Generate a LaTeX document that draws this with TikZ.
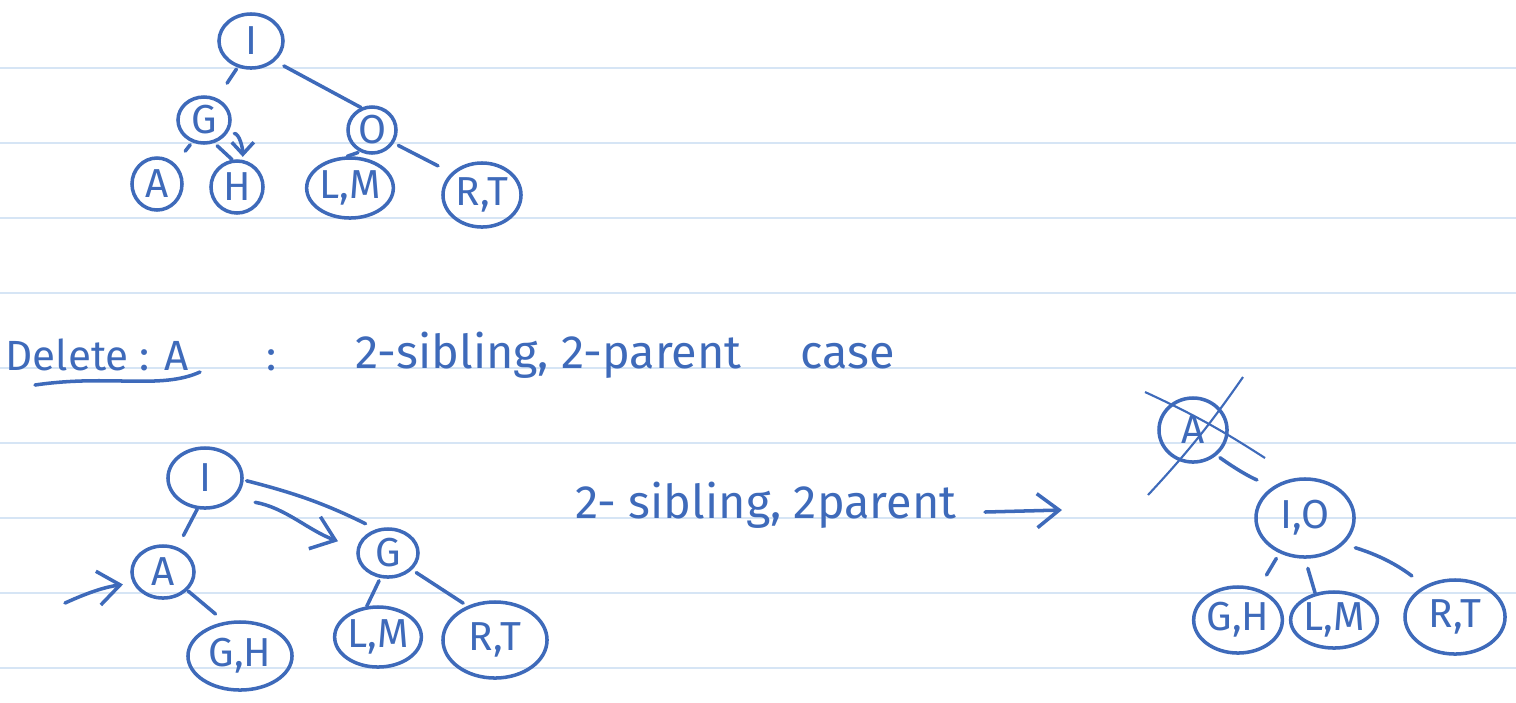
\documentclass[tikz,border=0pt]{standalone}
\usepackage{fontspec}
\setmainfont{Fira Sans}
\usepackage{xcolor}
\usepackage{tikz}
\usetikzlibrary{shapes.geometric, arrows.meta, calc}
\definecolor{inkblue}{RGB}{62,106,186}
\definecolor{ruleblue}{RGB}{214,229,245}

\begin{document}
\begin{tikzpicture}[
    x=0.01cm, y=0.01cm,
    bubble/.style={draw=inkblue, ellipse, line width=1pt, inner sep=0pt, text=inkblue, font=\fontsize{11.5}{13}\selectfont},
    link/.style={draw=inkblue, line width=1pt, line cap=round},
    pointer/.style={link, -{Straight Barb[length=2.2mm, width=3.4mm]}},
    ruling/.style={draw=ruleblue, line width=0.6pt},
    note/.style={text=inkblue, font=\fontsize{12}{14}\selectfont, inner sep=0pt, anchor=base west},
    bignote/.style={note, font=\fontsize{13.3}{15}\selectfont}
]
    \useasboundingbox (0,0) rectangle (1516,-702);
    \foreach \y in {68,143,...,668}
        \draw[ruling] (0,-\y) -- (1516,-\y);

    % first tree
    \node[bubble, minimum width=0.64cm, minimum height=0.54cm] (I1) at (251,-41) {I};
    \node[bubble, minimum width=0.52cm, minimum height=0.46cm] (G1) at (204,-120) {G};
    \node[bubble, minimum width=0.48cm, minimum height=0.46cm] (O1) at (372,-130) {O};
    \node[bubble, minimum width=0.50cm, minimum height=0.52cm] (A1) at (157,-184) {A};
    \node[bubble, minimum width=0.52cm, minimum height=0.52cm] (H1) at (237,-187) {H};
    \node[bubble, minimum width=0.74cm, minimum height=0.60cm] (LM1) at (350,-188) {L,M};
    \node[bubble, minimum width=0.78cm, minimum height=0.64cm] (RT1) at (482,-195) {R,T};

    \draw[link, shorten <=0.02cm, shorten >=0.18cm] (I1.-117) -- (G1.59);
    \draw[link, shorten <=0.1cm] (I1.-40) -- (O1.116);
    \draw[link, shorten <=0.03cm, shorten >=0.16cm] (G1.242) -- (A1.48);
    \draw[link, shorten <=0.04cm] (G1.-66) -- (H1.100);
    \draw[link, -{Straight Barb[length=1.2mm, width=2.2mm]}, shorten <=0.07cm, shorten >=0.03cm] (G1.-30) to[out=0, in=90] (H1.78);
    \draw[link, shorten <=0.02cm] (O1.241) -- (LM1.95);
    \draw[link, shorten <=0.05cm, shorten >=0.15cm] (O1.-31) -- (RT1.144);

    % heading
    \node[note] (del) at (5,-370) {Delete : A};
    \draw[link] (35,-385) .. controls (110,-374) and (160,-390) .. (200,-372);
    \node[note] (sep) at (266,-370) {:};
    \node[bignote] (case1) at (355,-368) {2-sibling, 2-parent};
    \node[bignote] (case1b) at (800,-368) {case};

    % second tree
    \node[bubble, minimum width=0.74cm, minimum height=0.60cm] (I2) at (205,-478) {I};
    \node[bubble, minimum width=0.62cm, minimum height=0.52cm] (A2) at (163,-572) {A};
    \node[bubble, minimum width=0.60cm, minimum height=0.48cm] (G2) at (388,-553) {G};
    \node[bubble, minimum width=1.04cm, minimum height=0.68cm] (GH2) at (240,-656) {G,H};
    \node[bubble, minimum width=0.82cm, minimum height=0.60cm] (LM2) at (378,-637) {L,M};
    \node[bubble, minimum width=1.04cm, minimum height=0.76cm] (RT2) at (495,-640) {R,T};
    \coordinate (cue) at (65,-603);

    \draw[link, shorten >=0.13cm] (I2.256) -- (A2.60);
    \draw[link, shorten <=0.03cm, shorten >=0.12cm] (I2.-3) to[bend left=6] (G2.116);
    \draw[pointer, shorten <=0.21cm, shorten >=0.2cm] (I2.-35) to[out=-10, in=160] (G2.171);
    \draw[link, shorten <=0.01cm, shorten >=0.12cm] (A2.-37) -- (GH2.114);
    \draw[link, shorten <=0.03cm] (G2.253) -- (LM2.110);
    \draw[link, shorten <=0.05cm, shorten >=0.05cm] (G2.-35) -- (RT2.129);
    \draw[pointer, shorten >=0.1cm] (cue) to[bend left=8] (A2.200);

    % rule between the trees
    \node[bignote] (case2) at (575,-518) {2- sibling, 2parent};
    \coordinate (from2) at (985,-512);
    \coordinate (to2) at (1062,-510);
    \draw[pointer] (from2) -- (to2);

    % third tree
    \node[bubble, minimum width=0.68cm, minimum height=0.64cm] (A3) at (1193,-430) {A};
    \node[bubble, minimum width=0.98cm, minimum height=0.78cm] (IO3) at (1305,-518) {I,O};
    \node[bubble, minimum width=0.72cm, minimum height=0.66cm] (GH3) at (1238,-620) {G,H};
    \node[bubble, minimum width=0.74cm, minimum height=0.56cm] (LM3) at (1334,-620) {L,M};
    \node[bubble, minimum width=1.00cm, minimum height=0.74cm] (RT3) at (1455,-617) {R,T};

    \draw[inkblue, line width=0.6pt] ($(A3)+(-48,38)$) to[bend left=4] ($(A3)+(72,-28)$);
    \draw[inkblue, line width=0.6pt] ($(A3)+(50,53)$) to[bend left=4] ($(A3)+(-45,-65)$);

    \draw[link, shorten <=0.04cm, shorten >=0.17cm] (A3.-47) to[bend right=6] (IO3.136);
    \draw[link, shorten <=0.06cm, shorten >=0.16cm] (IO3.234) -- (GH3.57);
    \draw[link, shorten <=0.1cm] (IO3.270) -- (LM3.125);
    \draw[link, shorten <=0.12cm, shorten >=0.16cm] (IO3.-34) to[bend left=10] (RT3.134);
\end{tikzpicture}
\end{document}
